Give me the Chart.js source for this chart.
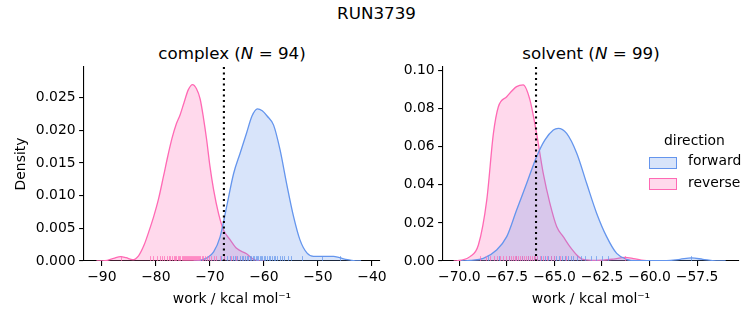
<!DOCTYPE html>
<html><head><meta charset="utf-8">
<script src="https://cdn.jsdelivr.net/npm/chart.js@4.4.1/dist/chart.umd.min.js"></script>
<style>
html,body{margin:0;padding:0;background:#fff;}
body{width:753px;height:325px;position:relative;overflow:hidden;font-family:"DejaVu Sans",sans-serif;color:#000;}
canvas{position:absolute;top:40px;}
.t{position:absolute;white-space:nowrap;line-height:1;}
.patch{position:absolute;width:26px;height:10px;}
</style></head><body>
<div class="t" style="font-size:16.7px;top:4.6px;left:0;width:753px;text-align:center;">RUN3739</div>
<div class="t" style="font-size:16.7px;top:44.6px;left:84px;width:296px;text-align:center;">complex (<i>N</i> = 94)</div>
<div class="t" style="font-size:16.7px;top:44.6px;left:443px;width:296px;text-align:center;">solvent (<i>N</i> = 99)</div>
<canvas id="c1" width="390" height="285" style="left:0"></canvas>
<canvas id="c2" width="363" height="285" style="left:390px"></canvas>
<div class="t" style="font-size:13.9px;top:134.2px;left:664px;">direction</div>
<div class="patch" style="left:649px;top:156.5px;background:rgba(100,149,237,0.25);border:1.4px solid #6495ed;"></div>
<div class="t" style="font-size:13.9px;top:154.2px;left:688px;">forward</div>
<div class="patch" style="left:649px;top:177.5px;background:rgba(255,105,180,0.25);border:1.4px solid #ff69b4;"></div>
<div class="t" style="font-size:13.9px;top:175.6px;left:688px;">reverse</div>
<script>
// ---- complex leg: KDE curves ----
const complexFwdX = [-73,-71.8,-70.5,-69.3,-68.1,-66.9,-65.6,-64.4,-63.2,-62.2,-61.2,-60.3,-59.4,-58.2,-57.0,-55.8,-54.5,-53.3,-52.0,-50.8,-49,-47.1,-46.0,-44.5,-43,-42];
const complexFwdY = [0,0.0001,0.0005,0.0014,0.0037,0.0083,0.0134,0.0165,0.0196,0.0222,0.0233,0.0230,0.0222,0.0208,0.0170,0.0119,0.0068,0.0032,0.0012,0.0007,0.0007,0.0007,0.0005,0.0002,0.00003,0];
const complexRevX = [-91,-90.3,-89,-87.8,-86.5,-85.5,-84.3,-83.2,-82.2,-81.3,-80.4,-79.5,-78.6,-77.8,-77.0,-76.2,-75.5,-74.8,-74.0,-73.2,-72.5,-71.8,-71.2,-70.6,-70.0,-69.3,-68.4,-67.5,-66.2,-65.0,-63.2,-62.0,-61.0,-60];
const complexRevY = [0,0.00002,0.0001,0.0004,0.00068,0.0005,0.0002,0.0008,0.0024,0.0045,0.0068,0.0095,0.0129,0.0160,0.0188,0.0210,0.0224,0.0242,0.0262,0.0270,0.0264,0.0248,0.0220,0.0186,0.0146,0.0109,0.0073,0.0048,0.0032,0.0019,0.0011,0.0003,0.00005,0];
// ---- complex leg: individual work values (rug) ----
const complexFwdRug = [-68.0,-67.3,-66.8,-66.2,-65.7,-65.3,-64.9,-64.5,-64.1,-63.8,-63.5,-63.2,-62.9,-62.6,-62.3,-62.0,-61.8,-61.5,-61.3,-61.0,-60.8,-60.5,-60.3,-60.0,-59.7,-59.4,-59.1,-58.8,-58.5,-58.2,-57.9,-57.5,-57.1,-56.7,-56.2,-55.6,-55.0,-53.0,-49.3,-45.9];
const complexRevRug = [-86.4,-81.0,-80.6,-79.8,-79.3,-78.9,-78.4,-78.0,-77.6,-77.3,-77.0,-76.7,-76.4,-76.2,-75.9,-75.7,-75.5,-75.2,-75.0,-74.8,-74.6,-74.4,-74.2,-74.0,-73.8,-73.6,-73.5,-73.3,-73.1,-72.9,-72.8,-72.6,-72.4,-72.2,-72.0,-71.8,-71.5,-71.2,-70.9,-70.6,-70.2,-69.8,-69.3,-68.8,-68.2,-67.4,-66.1,-65.2];
const complexMarker = -67.4;
// ---- solvent leg ----
const solventFwdX = [-69.9,-69.44,-68.74,-68.04,-67.51,-66.99,-66.46,-65.94,-65.5,-65.06,-64.8,-64.36,-63.83,-63.31,-62.78,-62.26,-61.73,-61.21,-60.7,-59.1,-58.4,-57.79,-57.2,-56.5,-56.0];
const solventFwdY = [0,0.0003,0.0014,0.0058,0.0128,0.0268,0.0408,0.0548,0.0636,0.0688,0.0697,0.067,0.0566,0.0408,0.025,0.0128,0.004,0.0009,0.0002,0.0002,0.0009,0.0016,0.0009,0.0001,0];
const solventRevX = [-70.3,-69.9,-69.44,-69.0,-68.56,-68.21,-67.95,-67.51,-66.99,-66.64,-66.29,-65.94,-65.59,-65.24,-64.88,-64.54,-64.19,-63.83,-63.49,-62.8,-61.91,-61.3,-60.85,-60.3,-59.8];
const solventRevY = [0,0.0004,0.0023,0.0084,0.032,0.067,0.081,0.0863,0.0916,0.0925,0.0846,0.067,0.046,0.0303,0.018,0.0128,0.0075,0.0032,0.0008,0.0003,0.0010,0.0019,0.0013,0.0003,0];
const solventFwdRug = [-68.5,-67.9,-67.4,-67.0,-66.7,-66.4,-66.1,-65.9,-65.7,-65.5,-65.35,-65.2,-65.05,-64.9,-64.75,-64.6,-64.45,-64.3,-64.15,-64.0,-63.8,-63.6,-63.4,-63.1,-62.8,-62.5,-62.2,-57.8];
const solventRevRug = [-68.9,-68.6,-68.4,-68.2,-68.0,-67.85,-67.7,-67.55,-67.4,-67.3,-67.2,-67.1,-67.0,-66.9,-66.8,-66.7,-66.6,-66.5,-66.4,-66.3,-66.2,-66.1,-66.0,-65.9,-65.75,-65.6,-65.4,-65.2,-65.0,-64.7,-64.4,-61.3];
const solventMarker = -65.97;
// ---- ticks ----
const complexXTicks = [-90,-80,-70,-60,-50,-40];
const complexXLabels = ['\u221290','\u221280','\u221270','\u221260','\u221250','\u221240'];
const complexYTicks = [0,0.005,0.010,0.015,0.020,0.025];
const complexYLabels = ['0.000','0.005','0.010','0.015','0.020','0.025'];
const solventXTicks = [-70,-67.5,-65,-62.5,-60,-57.5];
const solventXLabels = ['\u221270.0','\u221267.5','\u221265.0','\u221262.5','\u221260.0','\u221257.5'];
const solventYTicks = [0,0.02,0.04,0.06,0.08,0.10];
const solventYLabels = ['0.00','0.02','0.04','0.06','0.08','0.10'];

const BLUE='#6495ed', PINK='#ff69b4';
const BLUE_FILL='rgba(100,149,237,0.25)', PINK_FILL='rgba(255,105,180,0.25)';
const BLUE_RUG='rgba(100,149,237,0.7)', PINK_RUG='rgba(255,105,180,0.7)';
Chart.defaults.font.family = '"DejaVu Sans", sans-serif';
Chart.defaults.font.size = 13.9;
Chart.defaults.color = '#000';

function pts(xs, ys){ return xs.map((x,i)=>({x:x, y:ys[i]})); }

const extras = {
  id:'extras',
  afterDatasetsDraw(chart, args, opts){
    const ctx = chart.ctx, ca = chart.chartArea, xs = chart.scales.x;
    ctx.save();
    ctx.lineWidth = 1;
    for (const r of opts.rugs){
      ctx.strokeStyle = r.color;
      for (const v of r.values){
        const px = Math.round(xs.getPixelForValue(v)) + 0.5;
        ctx.beginPath(); ctx.moveTo(px, ca.bottom); ctx.lineTo(px, ca.bottom - 4.9); ctx.stroke();
      }
    }
    const vx = xs.getPixelForValue(opts.vline);
    ctx.strokeStyle = '#000'; ctx.lineWidth = 2.1; ctx.setLineDash([2.1,3.4]);
    ctx.beginPath(); ctx.moveTo(vx, ca.top); ctx.lineTo(vx, ca.bottom); ctx.stroke();
    ctx.restore();
  }
};

function makeChart(id, c){
  const axisCommon = {
    grid:{display:true, drawOnChartArea:false, drawTicks:true, tickLength:4.9, color:'#000', lineWidth:1.1},
    border:{display:true, color:'#000', width:1.1}
  };
  return new Chart(document.getElementById(id), {
    type:'line',
    data:{datasets:[
      {data:pts(c.fx,c.fy), borderColor:BLUE, backgroundColor:BLUE_FILL, fill:'origin', borderWidth:1.3, pointRadius:0, cubicInterpolationMode:'monotone'},
      {data:pts(c.rx,c.ry), borderColor:PINK, backgroundColor:PINK_FILL, fill:'origin', borderWidth:1.3, pointRadius:0, cubicInterpolationMode:'monotone'}
    ]},
    options:{
      responsive:false, animation:false, devicePixelRatio:1,
      layout:{padding:{left:0, top:27, right:c.padRight, bottom:0}},
      plugins:{legend:{display:false}, tooltip:{enabled:false},
        extras:{rugs:[{values:c.fRug, color:BLUE_RUG},{values:c.rRug, color:PINK_RUG}], vline:c.vline}},
      scales:{
        x:Object.assign({type:'linear', min:c.xMin, max:c.xMax,
          afterBuildTicks:s=>{ s.ticks = c.xTicks.map(v=>({value:v})); },
          ticks:{callback:(v,i)=>c.xLabels[i], padding:3, maxRotation:0, autoSkip:false},
          title:{display:true, text:'work / kcal mol\u207b\u00b9', padding:{top:0, bottom:17.6}},
          afterFit:s=>{ s.height = 64; }}, axisCommon),
        y:Object.assign({type:'linear', min:0, max:c.yMax,
          afterBuildTicks:s=>{ s.ticks = c.yTicks.map(v=>({value:v})); },
          ticks:{callback:(v,i)=>c.yLabels[i], padding:3.5, autoSkip:false},
          title:{display:c.yTitle, text:'Density', padding:{top:12.6, bottom:0}},
          afterFit:s=>{ s.width = c.yWidth; }}, axisCommon)
      }
    },
    plugins:[extras]
  });
}

makeChart('c1', {fx:complexFwdX, fy:complexFwdY, rx:complexRevX, ry:complexRevY, fRug:complexFwdRug, rRug:complexRevRug, vline:complexMarker,
  xMin:-93.3, xMax:-38.5, yMax:0.0297, xTicks:complexXTicks, xLabels:complexXLabels, yTicks:complexYTicks, yLabels:complexYLabels,
  padRight:10, yWidth:84, yTitle:true});
makeChart('c2', {fx:solventFwdX, fy:solventFwdY, rx:solventRevX, ry:solventRevY, fRug:solventFwdRug, rRug:solventRevRug, vline:solventMarker,
  xMin:-70.86, xMax:-55.3, yMax:0.1019, xTicks:solventXTicks, xLabels:solventXLabels, yTicks:solventYTicks, yLabels:solventYLabels,
  padRight:14, yWidth:53, yTitle:false});
</script>
</body></html>
